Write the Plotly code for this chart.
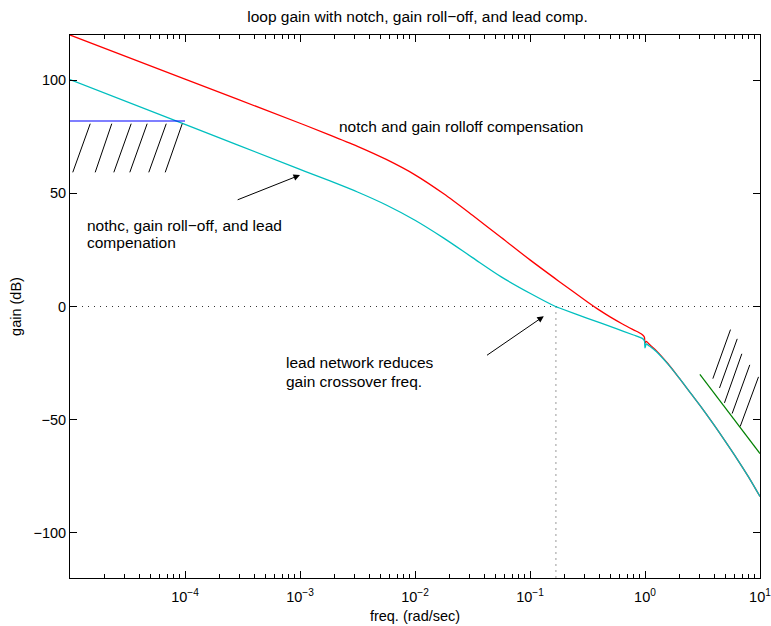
import numpy as np
import plotly.graph_objects as go

# ---- data (log10 of freq in rad/sec, gain in dB) ----
red_logw = [-5, -4, -3, -2.75, -2.5, -2.25, -2, -1.75, -1.5, -1.25, -1, -0.75, -0.5, -0.4,
            -0.3, -0.2, -0.1, -0.05, -0.02, -0.005, 0, 0.012, 0.03, 0.05, 0.1, 0.2, 0.3, 0.4,
            0.5, 0.6, 0.7, 0.8, 0.9, 1.0]
red_gain = [120, 100.5, 81, 76.0, 70.8, 65.0, 58.2, 49.8, 40.3, 30.5, 20.6, 11.2, 2.0, -1.5,
            -4.7, -7.6, -10.3, -11.6, -12.6, -13.6, -16.2, -15.4, -16.3, -17.3, -19.6, -25.3,
            -31.8, -38.5, -45.2, -52.3, -59.7, -67.3, -75.3, -84]

cyan_logw = [-5, -4, -3, -2.75, -2.5, -2.25, -2, -1.75, -1.5, -1.25, -1, -0.778, -0.75, -0.5,
             -0.25, -0.1, -0.05, -0.02, -0.005, 0, 0.012, 0.03, 0.05, 0.1, 0.2, 0.3, 0.4,
             0.5, 0.6, 0.7, 0.8, 0.9, 1.0]
cyan_gain = [100.3, 80.5, 60.6, 55.7, 50.6, 44.85, 38.1, 30.2, 21.6, 13.1, 5.85, 0, -0.55, -5.2,
             -9.8, -12.6, -13.5, -14.2, -15.2, -18.3, -16.5, -17.2, -17.9, -20.0, -25.5,
             -31.8, -38.5, -45.2, -52.3, -59.7, -67.3, -75.3, -84]

# low-frequency spec (blue) and high-frequency roll-off spec (green)
blue_freq = [1e-5, 1e-4]
blue_gain = [82, 82]
green_freq = [3, 10]
green_gain = [-30, -65]

# hatch segments (log10 freq, dB) : start, end
left_hatch_x = [(-4.824, -4.976), (-4.637, -4.781), (-4.468, -4.619),
                (-4.329, -4.480), (-4.163, -4.315), (-4.024, -4.172)]
left_hatch_y = [(80.8, 59.3)] * 6
right_hatch_x = [(0.7435, 0.590), (0.802, 0.648), (0.842, 0.691), (0.911, 0.758), (0.987, 0.828)]
right_hatch_y = [(-10.2, -31.9), (-14.3, -36.0), (-20.9, -42.6), (-25.8, -47.3), (-31.1, -53.0)]

crossover_freq = 0.168
x_tick_exp = [-4, -3, -2, -1, 0, 1]
y_ticks = [-100, -50, 0, 50, 100]

FONT = "Liberation Sans, Arial, Helvetica, sans-serif"
DOTS = "1px,5px"

fig = go.Figure()

# dotted 0 dB line and crossover marker
fig.add_trace(go.Scatter(x=[1e-5, 10], y=[0, 0], mode="lines",
                         line=dict(color="#333333", width=1, dash=DOTS), hoverinfo="skip"))
fig.add_trace(go.Scatter(x=[crossover_freq, crossover_freq], y=[0, -120], mode="lines",
                         line=dict(color="#333333", width=1, dash=DOTS), hoverinfo="skip"))

fig.add_trace(go.Scatter(x=[10.0 ** v for v in red_logw], y=red_gain, mode="lines",
                         line=dict(color="#ff0000", width=1.3, shape="spline", smoothing=0.8)))
fig.add_trace(go.Scatter(x=[10.0 ** v for v in cyan_logw], y=cyan_gain, mode="lines",
                         line=dict(color="#00bfbf", width=1.3, shape="spline", smoothing=0.8)))
fig.add_trace(go.Scatter(x=blue_freq, y=blue_gain, mode="lines",
                         line=dict(color="#0000ff", width=1.2)))
fig.add_trace(go.Scatter(x=green_freq, y=green_gain, mode="lines",
                         line=dict(color="#008000", width=1.2)))

for xs, ys in list(zip(left_hatch_x, left_hatch_y)) + list(zip(right_hatch_x, right_hatch_y)):
    fig.add_trace(go.Scatter(x=[10 ** xs[0], 10 ** xs[1]], y=list(ys), mode="lines",
                             line=dict(color="black", width=1), hoverinfo="skip"))

# text annotations
texts = [
    ("notch and gain rolloff compensation", -2.665, 79.6),
    ("nothc, gain roll\u2212off, and lead", -4.854, 35.8),
    ("compenation", -4.854, 28.2),
    ("lead network reduces", -3.126, -24.6),
    ("gain crossover freq.", -3.126, -33.1),
]
for t, lx, ly in texts:
    fig.add_annotation(x=lx, y=ly, text=t, showarrow=False, xanchor="left", yanchor="middle",
                       xshift=-2, font=dict(family=FONT, size=15.5, color="black"))

# arrows (head, tail)
arrows = [((-3.0, 58.1), (-3.555, 46.9)), ((-0.880, -4.3), (-1.387, -22.0))]
for (hx, hy), (tx, ty) in arrows:
    fig.add_annotation(x=hx, y=hy, ax=tx, ay=ty, axref="x", ayref="y", xref="x", yref="y",
                       text="", showarrow=True, arrowhead=2, arrowsize=1.3, arrowwidth=1,
                       arrowcolor="black")

minor_vals = [m * 10.0 ** e for e in range(-5, 1) for m in range(2, 10)]

fig.update_layout(
    width=771, height=626,
    margin=dict(l=70, r=11, t=35, b=48),
    plot_bgcolor="white", paper_bgcolor="white",
    showlegend=False,
    font=dict(family=FONT, size=14.5, color="black"),
    title=dict(text="loop gain with notch, gain roll\u2212off, and lead comp.",
               x=0.5415, xanchor="center", y=0.974, yanchor="middle",
               font=dict(family=FONT, size=15.5, color="black")),
    xaxis=dict(type="log", range=[-5, 1], showgrid=False, zeroline=False, automargin=False,
               showline=True, linecolor="black", linewidth=1, mirror="allticks",
               ticks="inside", ticklen=7, tickcolor="black", tickwidth=1,
               ticklabeloverflow="allow", ticklabelstandoff=6,
               tickmode="array", tickvals=[10.0 ** e for e in x_tick_exp],
               ticktext=["10<sup>\u2212%d</sup>" % -e if e < 0 else "10<sup>%d</sup>" % e
                         for e in x_tick_exp],
               minor=dict(tickmode="array", tickvals=minor_vals, ticks="inside",
                          ticklen=4, tickcolor="black", tickwidth=1),
               title=dict(text="freq. (rad/sec)", standoff=6,
                          font=dict(family=FONT, size=14.5))),
    yaxis=dict(range=[-120, 120], showgrid=False, zeroline=False, automargin=False,
               showline=True, linecolor="black", linewidth=1, mirror="allticks",
               ticks="inside", ticklen=7, tickcolor="black", tickwidth=1,
               tickmode="array", tickvals=y_ticks,
               title=dict(text="gain (dB)", standoff=8,
                          font=dict(family=FONT, size=14.5))),
)

fig.write_html("out.html")
